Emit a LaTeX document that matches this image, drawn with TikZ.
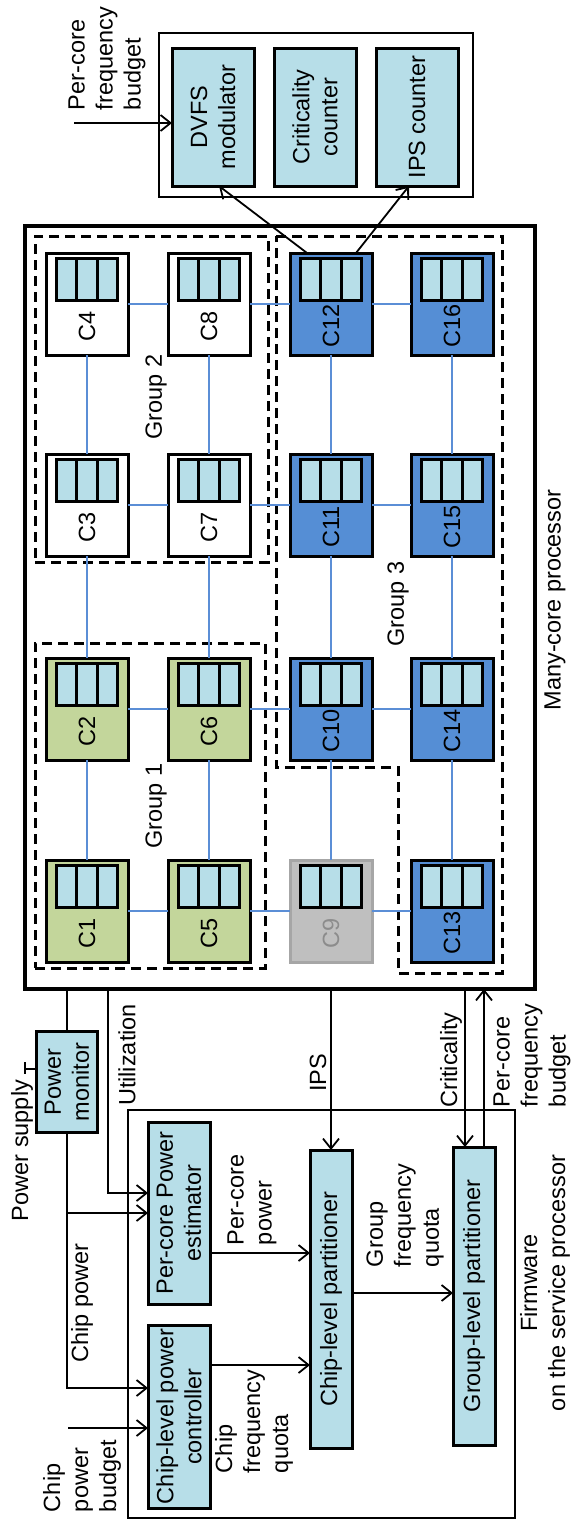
\documentclass[tikz,border=0pt]{standalone}
\usepackage{fontspec}
\setmainfont{Liberation Sans}
\usetikzlibrary{arrows.meta,calc}
\definecolor{lblue}{HTML}{B7DEE8}
\definecolor{cgreen}{HTML}{C3D69B}
\definecolor{cblue}{HTML}{558ED5}
\definecolor{cgray}{HTML}{BFBFBF}
\definecolor{cgrayd}{HTML}{A6A6A6}
\definecolor{cgrayt}{HTML}{8C8C8C}
\definecolor{meshc}{HTML}{5B8ED6}
\tikzset{
  every node/.style={inner sep=0pt, outer sep=0pt, font=\fontsize{23.5}{28}\selectfont},
  core/.style={draw, line width=3pt, minimum width=82pt, minimum height=102pt},
  reg/.style={draw, line width=3pt, fill=lblue, minimum width=61pt, minimum height=42pt},
  blk/.style={draw, line width=3pt, fill=lblue},
  rot/.style={rotate=90, align=center},
  arr/.style={line width=1.8pt, -{Straight Barb[length=10pt,width=16pt,line width=1.8pt]}},
  ln/.style={line width=1.8pt},
  grp/.style={line width=3pt, dash pattern=on 10pt off 6pt},
  mesh/.style={meshc, line width=1.6pt},
  greencore/.style={fill=cgreen},
  bluecore/.style={fill=cblue},
  whitecore/.style={fill=white},
  graycore/.style={fill=cgray, draw=cgrayd},
}
\newcommand{\mkcore}[6]{%
  \node[core,#4] (#1) at (#2,#3) {};
  \node[reg] (#1r) at (#2,#3-25) {};
  \draw[line width=3pt] ($(#1r.north west)!1/3!(#1r.north east)$) -- ($(#1r.south west)!1/3!(#1r.south east)$);
  \draw[line width=3pt] ($(#1r.north west)!2/3!(#1r.north east)$) -- ($(#1r.south west)!2/3!(#1r.south east)$);
  \node[rot,text=#5] (#1l) at (#2,#3+22) {#6};
}
\begin{document}
\begin{tikzpicture}[x=1pt,y=-1pt]
\useasboundingbox (0,0) rectangle (573,1521);
% ---------- top box ----------
\node[draw, line width=2pt, minimum width=314pt, minimum height=164pt] (tb) at (316,115) {};
\node[blk, minimum width=82pt, minimum height=138pt] (dvfs) at (213,117) {};
\node[rot] (dvfst) at (dvfs) {DVFS\\modulator};
\node[blk, minimum width=82pt, minimum height=138pt] (crc) at (315,117) {};
\node[rot] (crct) at (crc) {Criticality\\counter};
\node[blk, minimum width=82pt, minimum height=138pt] (ipsc) at (417,117) {};
\node[rot] (ipsct) at (ipsc) {IPS counter};
\coordinate (pfb) at (74,123);
\draw[arr] (pfb) -- (dvfs.west |- pfb);
\node[rot, anchor=west, align=left] (tpfb) at (107,110) {Per-core\\frequency\\budget};
% ---------- processor ----------
\node[draw, line width=4.5pt, minimum width=510pt, minimum height=763pt] (proc) at (280,607.5) {};
\node[draw, grp, minimum width=233pt, minimum height=326pt] (g2) at (151.5,399) {};
\node[draw, grp, minimum width=230pt, minimum height=325pt] (g1) at (150,805.5) {};
\draw[grp] (276,236) -- (502,236) -- (502,973) -- (398,973) -- (398,767) -- (276,767) -- cycle;
\node[rot] (lg2) at (156,397) {Group 2};
\node[rot] (lg1) at (156,806) {Group 1};
\node[rot] (lg3) at (398,604) {Group 3};
\node[rot] (lproc) at (555,600) {Many-core processor};
% cores
\mkcore{c1}{87}{911}{greencore}{black}{C1}
\mkcore{c2}{87}{709}{greencore}{black}{C2}
\mkcore{c3}{87}{505}{whitecore}{black}{C3}
\mkcore{c4}{87}{304}{whitecore}{black}{C4}
\mkcore{c5}{209}{911}{greencore}{black}{C5}
\mkcore{c6}{209}{709}{greencore}{black}{C6}
\mkcore{c7}{209}{505}{whitecore}{black}{C7}
\mkcore{c8}{209}{304}{whitecore}{black}{C8}
\mkcore{c9}{331}{911}{graycore}{cgrayt}{C9}
\mkcore{c10}{331}{709}{bluecore}{black}{C10}
\mkcore{c11}{331}{505}{bluecore}{black}{C11}
\mkcore{c12}{331}{304}{bluecore}{black}{C12}
\mkcore{c13}{452}{911}{bluecore}{black}{C13}
\mkcore{c14}{452}{709}{bluecore}{black}{C14}
\mkcore{c15}{452}{505}{bluecore}{black}{C15}
\mkcore{c16}{452}{304}{bluecore}{black}{C16}
% mesh
\draw[mesh] (c1) -- (c5) -- (c9) -- (c13);
\draw[mesh] (c2) -- (c6) -- (c10) -- (c14);
\draw[mesh] (c3) -- (c7) -- (c11) -- (c15);
\draw[mesh] (c4) -- (c8) -- (c12) -- (c16);
\draw[mesh] (c1) -- (c2) -- (c3) -- (c4);
\draw[mesh] (c5) -- (c6) -- (c7) -- (c8);
\draw[mesh] (c9) -- (c10) -- (c11) -- (c12);
\draw[mesh] (c13) -- (c14) -- (c15) -- (c16);
% arrows to top box
\draw[arr] ([xshift=-24pt]c12.north) -- ([xshift=6pt]dvfs.south);
\draw[arr] ([xshift=25pt]c12.north) -- ([xshift=-8pt]ipsc.south);
% ---------- firmware ----------
\node[draw, line width=2pt, minimum width=387pt, minimum height=408pt] (fw) at (321.5,1314) {};
\node[rot] (fwt) at (545,1283) {Firmware\\on the service processor};
\node[blk, minimum width=61pt, minimum height=101pt] (pm) at (67,1082) {};
\node[rot] (pmt) at (pm) {Power\\monitor};
\node[blk, minimum width=62pt, minimum height=183pt] (ctrl) at (179,1416.5) {};
\node[rot] (ctrlt) at (ctrl) {Chip-level power\\controller};
\node[blk, minimum width=62pt, minimum height=182pt] (est) at (179,1213) {};
\node[rot] (estt) at (est) {Per-core Power\\estimator};
\node[blk, minimum width=42pt, minimum height=298pt] (clp) at (331,1299) {};
\node[rot] (clpt) at (clp) {Chip-level partitioner};
\node[blk, minimum width=42pt, minimum height=298pt] (glp) at (474,1296) {};
\node[rot] (glpt) at (glp) {Group-level partitioner};
% connectors
\coordinate (ps) at (25,1069);
\draw[ln] (ps) -- (pm.west |- ps);
\draw[ln] ([yshift=7pt]ps) -- ([yshift=-5pt]ps);
\draw[ln] (proc.south -| pm.north) -- (pm.north);
\coordinate (ux) at (108,1193);
\draw[arr] (proc.south -| ux) -- (ux) -- (est.west |- ux);
\coordinate (cpw) at (67,1388);
\draw[arr] (pm.south) |- (ctrl.west |- cpw);
\coordinate (ept) at (67,1213);
\draw[arr] (pm.south |- ept) -- (est.west |- ept);
\coordinate (cpb) at (68,1428);
\draw[arr] (cpb) -- (ctrl.west |- cpb);
\coordinate (pp) at (0,1253);
\draw[arr] (est.east |- pp) -- (clp.west |- pp);
\coordinate (cq) at (0,1365);
\draw[arr] (ctrl.east |- cq) -- (clp.west |- cq);
\coordinate (gq) at (0,1293);
\draw[arr] (clp.east |- gq) -- (glp.west |- gq);
\draw[arr] (proc.south -| clp.north) -- (clp.north);
\coordinate (crx) at (465,0);
\draw[arr] (proc.south -| crx) -- (glp.north -| crx);
\coordinate (bx) at (484,0);
\draw[arr] (glp.north -| bx) -- (proc.south -| bx);
% labels
\node[rot, anchor=west] (lps) at (22,1221) {Power supply};
\node[rot] (lut) at (127,1055) {Utilization};
\node[rot] (lcp) at (82,1303) {Chip power};
\node[rot, anchor=west, align=left] (lcpb) at (82,1512) {Chip\\power\\budget};
\node[rot, anchor=west, align=left] (lpp) at (252,1245) {Per-core\\power};
\node[rot, anchor=west, align=left] (lcq) at (254,1473) {Chip\\frequency\\quota};
\node[rot, anchor=west, align=left] (lgq) at (405,1267) {Group\\frequency\\quota};
\node[rot] (lips) at (318,1073) {IPS};
\node[rot] (lcr) at (451,1060) {Criticality};
\node[rot, anchor=west, align=left] (lpfb) at (532,1107) {Per-core\\frequency\\budget};
\end{tikzpicture}
\end{document}
